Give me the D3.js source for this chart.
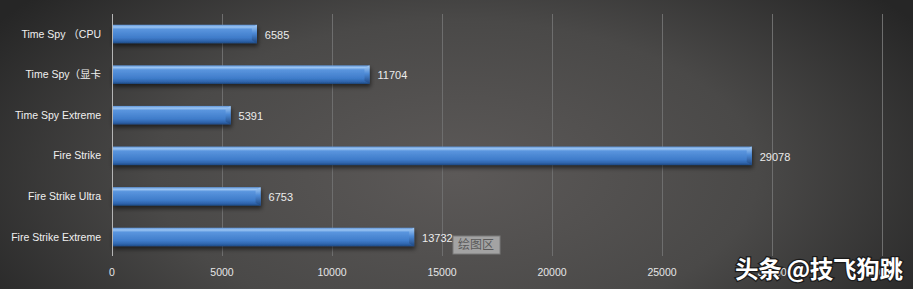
<!DOCTYPE html>
<html>
<head>
<meta charset="utf-8">
<script src="https://cdn.jsdelivr.net/npm/d3@7"></script>
<style>
  body { margin: 0; background: #2b2b2b; }
  svg { display: block; }
</style>
</head>
<body>
<script>
const width = 913;
const height = 289;

const categories = ["Time Spy （CPU", "Time Spy（显卡", "Time Spy Extreme", "Fire Strike", "Fire Strike Ultra", "Fire Strike Extreme"];
const scores = [6585, 11704, 5391, 29078, 6753, 13732];
const xTicks = [0, 5000, 10000, 15000, 20000, 25000, 30000, 35000];

const margin = { top: 14, right: 31, bottom: 32, left: 112 };

const svg = d3.select("body").append("svg")
    .attr("width", width)
    .attr("height", height);

const defs = svg.append("defs");

// background: lighter in the middle, dark edges
const bg = defs.append("radialGradient")
    .attr("id", "bg")
    .attr("cx", "50%").attr("cy", "60%").attr("r", "60%")
    .attr("gradientTransform", "translate(0.5 0.6) scale(1 1.6) translate(-0.5 -0.6)");
bg.append("stop").attr("offset", "0%").attr("stop-color", "#5c5958");
bg.append("stop").attr("offset", "55%").attr("stop-color", "#4a4948");
bg.append("stop").attr("offset", "100%").attr("stop-color", "#262626");

const barGrad = defs.append("linearGradient")
    .attr("id", "bar").attr("x1", 0).attr("y1", 0).attr("x2", 0).attr("y2", 1);
barGrad.append("stop").attr("offset", "0%").attr("stop-color", "#5e93d6");
barGrad.append("stop").attr("offset", "12%").attr("stop-color", "#9cc6f4");
barGrad.append("stop").attr("offset", "24%").attr("stop-color", "#5a95de");
barGrad.append("stop").attr("offset", "70%").attr("stop-color", "#3f7cca");
barGrad.append("stop").attr("offset", "88%").attr("stop-color", "#2f65ad");
barGrad.append("stop").attr("offset", "100%").attr("stop-color", "#1f4a85");

const capGrad = defs.append("linearGradient")
    .attr("id", "cap").attr("x1", 0).attr("y1", 0).attr("x2", 0).attr("y2", 1);
capGrad.append("stop").attr("offset", "0%").attr("stop-color", "#a9cff7");
capGrad.append("stop").attr("offset", "45%").attr("stop-color", "#4d8ad6");
capGrad.append("stop").attr("offset", "100%").attr("stop-color", "#1e4680");

const shadow = defs.append("filter").attr("id", "shadow")
    .attr("x", "-5%").attr("y", "-30%").attr("width", "115%").attr("height", "180%");
shadow.append("feDropShadow")
    .attr("dx", 1).attr("dy", 3).attr("stdDeviation", 2)
    .attr("flood-color", "#000").attr("flood-opacity", 0.55);

svg.append("rect")
    .attr("width", width).attr("height", height)
    .attr("fill", "url(#bg)");

const x = d3.scaleLinear()
    .domain([0, 35000])
    .range([margin.left, width - margin.right]);

const y = d3.scaleBand()
    .domain(categories)
    .range([margin.top, height - margin.bottom])
    .paddingInner(0.544)
    .paddingOuter(0.265);

// grid lines
svg.append("g")
    .selectAll("line")
    .data(xTicks.slice(1))
    .join("line")
    .attr("x1", d => x(d) + 0.5)
    .attr("x2", d => x(d) + 0.5)
    .attr("y1", margin.top)
    .attr("y2", height - margin.bottom - 1)
    .attr("stroke", "#6e6e6e")
    .attr("stroke-width", 1);

// bars
const bars = svg.append("g").attr("filter", "url(#shadow)");
bars.selectAll("rect")
    .data(scores)
    .join("rect")
    .attr("x", x(0))
    .attr("y", (d, i) => y(categories[i]))
    .attr("width", d => x(d) - x(0))
    .attr("height", y.bandwidth())
    .attr("fill", "url(#bar)");

// bevelled end of each bar
bars.selectAll("path")
    .data(scores)
    .join("path")
    .attr("d", (d, i) => {
        const x1 = x(d), y0 = y(categories[i]), h = y.bandwidth();
        return `M${x1 - 5},${y0 + 3} L${x1},${y0} L${x1},${y0 + h} L${x1 - 5},${y0 + h - 3} Z`;
    })
    .attr("fill", "url(#cap)");

// vertical axis line
svg.append("line")
    .attr("x1", x(0) + 0.5).attr("x2", x(0) + 0.5)
    .attr("y1", margin.top).attr("y2", height - margin.bottom - 1)
    .attr("stroke", "#b5b5b5")
    .attr("stroke-width", 1);

const font = "'Liberation Sans', Arial, 'Noto Sans CJK SC', sans-serif";

// category labels
svg.append("g")
    .selectAll("text")
    .data(categories)
    .join("text")
    .attr("x", x(0) - 11)
    .attr("y", d => y(d) + y.bandwidth() / 2)
    .attr("dy", "0.35em")
    .attr("text-anchor", "end")
    .attr("font-family", font)
    .attr("font-size", "10.5px")
    .attr("fill", "#f0f0f0")
    .text(d => d);

// value labels
svg.append("g")
    .selectAll("text")
    .data(scores)
    .join("text")
    .attr("x", d => x(d) + 8)
    .attr("y", (d, i) => y(categories[i]) + y.bandwidth() / 2 + 1)
    .attr("dy", "0.35em")
    .attr("font-family", font)
    .attr("font-size", "11px")
    .attr("fill", "#ececec")
    .text(d => d);

// x tick labels (the last ones sit under the watermark, as in the source)
svg.append("g")
    .selectAll("text")
    .data(xTicks)
    .join("text")
    .attr("x", d => x(d))
    .attr("y", 272)
    .attr("dy", "0.35em")
    .attr("text-anchor", "middle")
    .attr("font-family", font)
    .attr("font-size", "10.5px")
    .attr("fill", "#e6e6e6")
    .text(d => d);

// "plot area" tooltip
const tip = svg.append("g").attr("transform", "translate(453,236)");
tip.append("rect")
    .attr("width", 47).attr("height", 18)
    .attr("fill", "#a3a3a3")
    .attr("stroke", "#7b7b7b");
tip.append("text")
    .attr("x", 5).attr("y", 9)
    .attr("dy", "0.35em")
    .attr("font-family", "'Noto Sans CJK SC', sans-serif")
    .attr("font-size", "12px")
    .attr("fill", "#5a5a5a")
    .text("绘图区");

// watermark
svg.append("text")
    .attr("x", 735)
    .attr("y", 278)
    .attr("font-family", "'Noto Sans CJK SC', sans-serif")
    .attr("font-size", "23.5px")
    .attr("font-weight", "bold")
    .attr("letter-spacing", "-0.3px")
    .attr("fill", "#ffffff")
    .attr("stroke", "#1a1a1a")
    .attr("stroke-width", 2.5)
    .attr("paint-order", "stroke")
    .text("头条 @技飞狗跳");
</script>
</body>
</html>
